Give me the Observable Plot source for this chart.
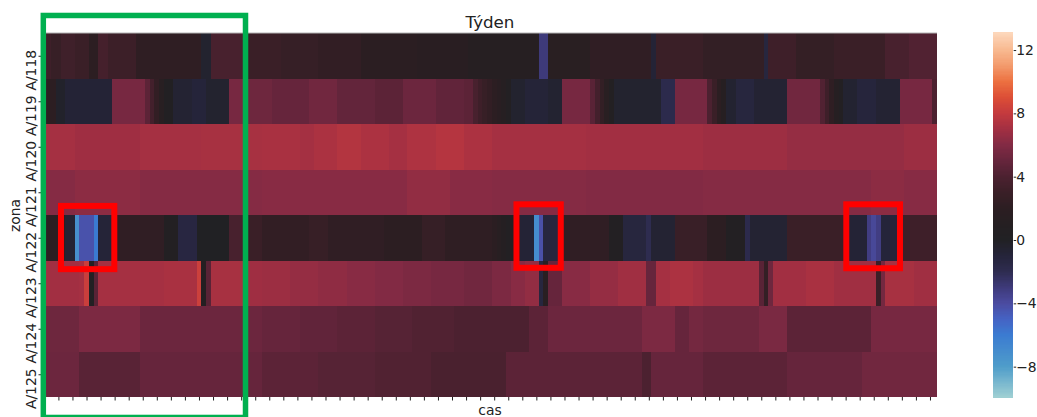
<!DOCTYPE html>
<html>
<head>
<meta charset="utf-8">
<script src="https://cdn.jsdelivr.net/npm/d3@7"></script>
<script src="https://cdn.jsdelivr.net/npm/@observablehq/plot@0.6"></script>
<style>
  body { margin: 0; background: #fff; }
  #wrap { position: relative; width: 1037px; height: 417px; overflow: hidden; background: #fff; }
  #wrap svg { position: absolute; top: 0; }
</style>
</head>
<body>
<div id="wrap"></div>
<script>
// ---------------- data ----------------
const zones = ["A/118", "A/119", "A/120", "A/121", "A/122", "A/123", "A/124", "A/125"];
const nCols = 191; // time steps on "cas"

// each row: runs of [value, number of consecutive time steps]
const runsA118 = [[3.2,2],[2.8,2],[3.3,3],[3.0,3],[2.0,2],[3.6,2],[3.1,6],[2.2,14],[-0.5,2],[3.8,8],[3.0,7],
  [2.7,8],[2.4,9],[1.9,12],[1.6,11],[1.1,15],[-3.0,2],[1.5,9],[2.3,13],[-0.8,1],[3.0,10],[2.5,13],[-1.2,1],
  [3.2,6],[2.6,8],[3.0,11],[3.8,5],[4.2,6]];
const runsA119 = [[2.0,3],[-0.3,2],[-0.8,10],[5.6,7],[4.6,1],[3.5,1],[2.4,1],[1.4,1],[0.3,2],[-0.7,4],[-1.0,3],[-0.5,5],
  [5.6,3],[5.3,6],[5.0,8],[5.4,6],[4.9,8],[4.6,6],[5.2,7],[4.8,6],[4.6,2],[3.8,1],[3.2,1],[2.8,1],[2.4,1],[2.0,1],[1.6,1],[1.2,1],[0.6,1],
  [-0.5,3],[-0.9,5],[-0.6,3],[5.6,6],[4.5,1],[3.5,1],[2.5,1],[1.5,1],[0.5,1],[-0.5,10],[-1.8,3],[5.6,7],
  [4.0,1],[3.0,1],[2.0,1],[1.2,1],[-0.6,2],[-1.2,4],[-0.7,7],[5.4,7],[4.2,1],[3.2,1],[2.2,1],[1.2,1],[0.4,1],
  [-0.6,3],[-1.1,4],[-0.7,5],[5.6,7],[4.0,1]];
const runsA120 = [[7.1,7],[6.9,14],[7.1,13],[7.15,13],[7.2,8],[7.05,3],[7.25,5],[7.5,5],[7.3,6],[7.1,4],[7.35,6],[7.55,6],[7.3,6],
  [7.1,20],[7.0,25],[6.85,18],[6.6,25],[6.8,7]];
const runsA121 = [[6.1,7],[6.3,14],[6.1,26],[6.2,31],[6.5,9],[6.2,9],[6.1,20],[6.0,25],[6.1,36],[6.3,7],[6.15,7]];
const runsA122 = [[2.0,5],[-0.7,2],[-7.2,1],[-4.3,3],[-6.0,1],[-0.9,4],[2.3,10],[0.4,3],[-1.3,4],[0.0,7],[3.8,3],[3.0,4],
  [2.4,10],[2.8,4],[2.3,12],[2.0,8],[2.7,5],[2.2,10],
  [1.8,1],[1.4,1],[1.0,1],[0.6,1],[0.3,1],[0.1,1],[-0.8,3],[-7.0,1],[-4.2,1],[-1.2,4],[2.3,10],[0.4,3],[-1.2,5],[-2.0,1],[-0.7,5],[2.9,7],
  [2.0,4],[0.4,4],[-1.8,1],[-0.7,8],[3.0,12],[-0.8,5],[-3.2,1],[-3.8,1],[-3.2,1],[-1.0,4],[3.2,8]];
const runsA123 = [[7.0,8],[7.1,1],[8.2,1],[0.3,1],[4.5,1],[7.1,14],[7.2,7],[8.3,1],[0.8,1],[4.5,1],[7.15,7],[6.9,4],
  [6.8,6],[6.6,6],[6.4,6],[6.2,6],[6.0,6],[5.8,6],[5.6,7],[5.4,6],
  [5.8,4],[6.2,3],[6.5,3],[-1.2,1],[1.5,1],[5.0,3],[6.2,6],[6.6,6],[6.95,6],[5.0,2],[7.1,3],[7.3,5],[7.1,2],
  [6.8,12],[4.5,1],[2.5,1],[5.3,1],[7.0,7],[7.2,6],[6.95,9],[3.0,1],[5.5,1],[7.15,6],[6.95,5]];
const runsA124 = [[5.3,8],[5.8,13],[5.2,26],[5.0,8],[4.8,8],[4.6,8],[4.4,8],[4.2,9],[4.0,8],[4.0,8],[4.6,4],[5.2,20],
  [5.8,7],[5.0,3],[5.5,3],[5.3,12],[5.7,6],[4.6,18],[5.6,14]];
const runsA125 = [[5.2,8],[4.5,13],[5.0,26],[4.6,12],[4.4,12],[4.2,12],[3.9,13],[3.9,3],[4.6,29],[4.0,2],[5.0,11],
  [4.6,18],[5.0,16],[5.4,16]];

const colorDomain = [-9.96, 13.12];
const colorbarTicks = [12, 8, 4, 0, -4, -8];
const titleText = "Týden";
const xLabel = "cas";
const yLabel = "zona";

// annotation boxes in (time step, zone row) units
const greenBoxes = [{x1: 0.28, x2: 43.43, y1: -0.385, y2: 8.45}];
const redBoxes = [
  {x1: 4.05, x2: 15.43, y1: 3.80, y2: 5.19},
  {x1: 101.26, x2: 110.71, y1: 3.765, y2: 5.16},
  {x1: 171.64, x2: 183.1, y1: 3.765, y2: 5.17}
];

// ---------------- palette (icefire-like, centred at 0) ----------------
const iceStops = [-13.12, -9.96, -8, -6, -5, -4, -3, -2, -1, 0, 1, 2, 3, 4, 5, 6, 7, 8, 9, 10, 11, 12, 13.12];
const iceColors = ["#bfe6dc", "#a0d0d3", "#4f9dca", "#3b7bd1", "#4563c4", "#4b4ba0", "#3e3a7a", "#2e2c50", "#25243a",
  "#212124", "#251f22", "#2c1e22", "#3a1f27", "#4c2130", "#66253c", "#822a44", "#a22f42", "#c43a3e", "#dc4e36",
  "#ec7040", "#f39a6c", "#f8b990", "#fdd8bd"];
const ice = d3.scaleLinear().domain(iceStops).range(iceColors).interpolate(d3.interpolateRgb).clamp(true);
const colorScale = {
  type: "linear",
  domain: colorDomain,
  interpolate: t => ice(colorDomain[0] + t * (colorDomain[1] - colorDomain[0]))
};

// ---------------- build table ----------------
const rows = [runsA118, runsA119, runsA120, runsA121, runsA122, runsA123, runsA124, runsA125];
const cells = [];
rows.forEach((runs, r) => {
  let c = 0;
  for (const [v, n] of runs) {
    for (let k = 0; k < n; k++) { cells.push({zone: zones[r], row: r, col: c, value: v}); c++; }
  }
  if (c !== nCols) throw new Error(zones[r] + " has " + c + " columns");
});
const xTicks = d3.range(0, nCols, 3).map(i => i + 0.5);
const yTicks = zones.map((_, i) => i + 0.5);

const font = "DejaVu Sans";
const ink = "#222";
const fmtTick = d => (d < 0 ? "\u2212" : "") + Math.abs(d);

const main = Plot.plot({
  width: 1037, height: 417,
  marginLeft: 42, marginRight: 100, marginTop: 33, marginBottom: 20,
  style: {fontFamily: font, background: "transparent", overflow: "visible"},
  x: {type: "linear", domain: [0, nCols], axis: null},
  y: {type: "linear", domain: [0, zones.length], reverse: true, axis: null},
  color: colorScale,
  marks: [
    Plot.rect(cells, {x1: "col", x2: d => d.col + 1, y1: "row", y2: d => d.row + 1, fill: "value", shapeRendering: "crispEdges"}),
    Plot.ruleY([0], {stroke: "#b4b4b4", strokeWidth: 1, dy: -0.5}),
    Plot.axisX({ticks: xTicks, tickSize: 3.5, tickFormat: () => "", color: ink, label: null}),
    Plot.axisY({ticks: yTicks, tickSize: 3.5, tickFormat: () => "", color: ink, label: null}),
    Plot.text(zones, {y: (d, i) => i + 0.5, frameAnchor: "left", text: d => d, rotate: -90,
      textAnchor: "middle", lineAnchor: "bottom", dx: -7, dy: 14, fontSize: 13.9, fill: ink}),
    Plot.text([titleText], {frameAnchor: "top", lineAnchor: "bottom", dy: -5.5, fontSize: 16.7, fill: ink}),
    Plot.text([xLabel], {frameAnchor: "bottom", lineAnchor: "bottom", dy: 17.5, fontSize: 13.9, fill: ink}),
    Plot.text([yLabel], {frameAnchor: "left", rotate: -90, textAnchor: "middle", lineAnchor: "bottom", dx: -22.7, fontSize: 13.9, fill: ink}),
    Plot.rect(greenBoxes, {x1: "x1", x2: "x2", y1: "y1", y2: "y2", fill: "none", stroke: "#00b050", strokeWidth: 5.5}),
    Plot.rect(redBoxes, {x1: "x1", x2: "x2", y1: "y1", y2: "y2", fill: "none", stroke: "#ff0000", strokeWidth: 6})
  ]
});
main.style.left = "0px";
document.getElementById("wrap").appendChild(main);

// ---------------- colour bar ----------------
const nSteps = 300;
const step = (colorDomain[1] - colorDomain[0]) / nSteps;
const gradient = d3.range(nSteps).map(k => colorDomain[0] + k * step);
const cbar = Plot.plot({
  width: 57, height: 417,
  marginLeft: 13.3, marginRight: 24.3, marginTop: 32.3, marginBottom: 19.3,
  style: {fontFamily: font, background: "transparent", overflow: "visible"},
  x: {domain: [0, 1], axis: null},
  y: {domain: colorDomain, axis: null},
  color: colorScale,
  marks: [
    Plot.rect(gradient, {x1: 0, x2: 1, y1: d => d, y2: d => d + step * 1.02, fill: d => d + step / 2, shapeRendering: "crispEdges"}),
    Plot.axisY({anchor: "right", ticks: colorbarTicks, tickSize: 2.5, tickPadding: 0.5, tickFormat: fmtTick, fontSize: 13.9, color: ink, label: null})
  ]
});
cbar.style.left = "980px";
document.getElementById("wrap").appendChild(cbar);
</script>
</body>
</html>
